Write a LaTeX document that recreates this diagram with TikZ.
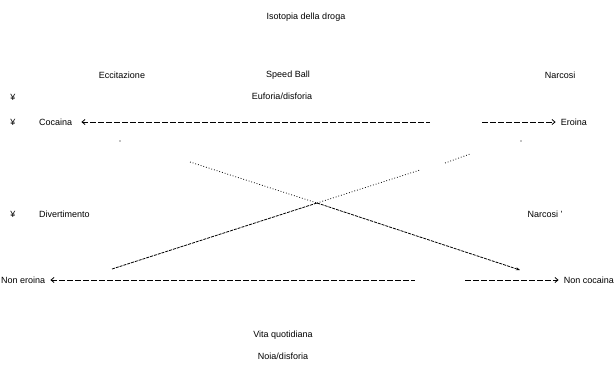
\documentclass[tikz,border=0pt]{standalone}
\usepackage{fontspec}
\setmainfont{Liberation Sans}
\usetikzlibrary{arrows.meta}

\begin{document}
\begin{tikzpicture}[x=1pt,y=-1pt,
    lbl/.style={inner sep=1pt, font=\fontsize{9}{10}\selectfont},
    opp/.style={dashed, dash pattern=on 6pt off 2pt, line width=0.8pt},
    diag/.style={line width=0.8pt}]
    \useasboundingbox (0,0) rectangle (615,368);
    % titles
    \node[lbl] (title) at (306,17) {Isotopia della droga};
    \node[lbl] (ecc) at (122,75) {Eccitazione};
    \node[lbl] (speed) at (288,75) {Speed Ball};
    \node[lbl] (euf) at (282,96) {Euforia/disforia};
    \node[lbl] (narc) at (560,75) {Narcosi};
    % left column
    \node[lbl] (b1) at (13,97) {¥};
    \node[lbl] (b2) at (13,122) {¥};
    \node[lbl, anchor=west] (coc) at (38,122) {Cocaina};
    \node[lbl, anchor=east] (ero) at (588,122) {Eroina};
    \node[lbl] (b3) at (13,214) {¥};
    \node[lbl, anchor=west] (div) at (38,214) {Divertimento};
    \node[lbl] (narc2) at (545,214) {Narcosi '};
    \node[lbl, anchor=west] (noner) at (0,280) {Non eroina};
    \node[lbl, anchor=east] (noncoc) at (615,280) {Non cocaina};
    \node[lbl] (vita) at (283,335) {Vita quotidiana};
    \node[lbl] (noia) at (283,356) {Noia/disforia};
    % contraries
    \coordinate (t1) at (430,122);
    \coordinate (t2) at (482,122);
    \coordinate (u1) at (415,280);
    \coordinate (u2) at (465,280);
    \draw[opp, {Straight Barb[length=3pt,width=5pt]}-] ([xshift=8pt]coc.east) -- (t1);
    \draw[opp, -{Straight Barb[length=3pt,width=5pt]}] (t2) -- ([xshift=-4pt]ero.west);
    \draw[opp, {Straight Barb[length=3pt,width=5pt]}-] ([xshift=4pt]noner.east) -- (u1);
    \draw[opp, -{Straight Barb[length=3pt,width=5pt]}] (u2) -- ([xshift=-4pt]noncoc.west);
    % contradictories
    \coordinate (d1) at (190,162);
    \coordinate (x) at (317,203);
    \coordinate (d2) at (520,270);
    \coordinate (e1) at (112,269);
    \coordinate (e2) at (420,170);
    \coordinate (e3) at (445,163);
    \coordinate (e4) at (470,154);
    \draw[diag, dotted] (d1) -- (x);
    \draw[diag, dashed, dash pattern=on 3pt off 1pt, -{Stealth[length=4pt]}] (x) -- (d2);
    \draw[diag, dashed, dash pattern=on 3pt off 1pt] (e1) -- (x);
    \draw[diag, dotted] (x) -- (e2);
    \draw[diag, dotted] (e3) -- (e4);
    \fill (120,141) circle (0.7pt);
    \fill (521,141) circle (0.7pt);
\end{tikzpicture}
\end{document}
